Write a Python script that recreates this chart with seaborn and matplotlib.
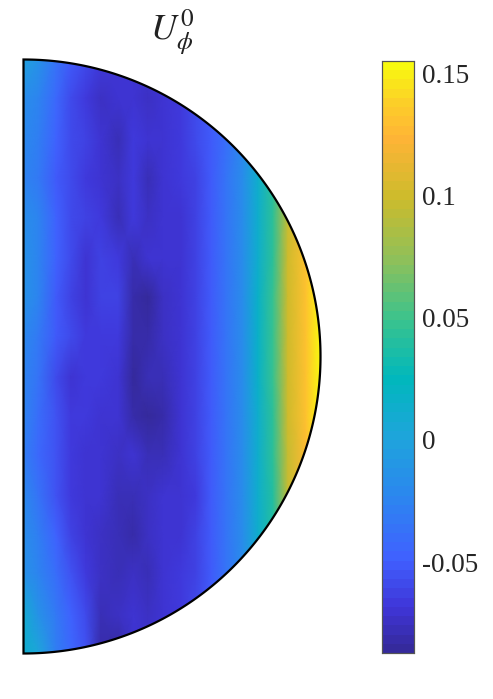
import numpy as np
import pandas as pd
import matplotlib
matplotlib.use('Agg')
import matplotlib.pyplot as plt
import seaborn as sns
from matplotlib.colors import LinearSegmentedColormap
from matplotlib.patches import Polygon

# values, rows go top to bottom, columns left to right
x_pos = [0.00, 0.05, 0.11, 0.16, 0.21, 0.26, 0.32, 0.37, 0.42, 0.47,
         0.53, 0.58, 0.63, 0.68, 0.74, 0.79, 0.84, 0.89, 0.95, 1.00]
y_pos = [1.00, 0.87, 0.73, 0.60, 0.47, 0.33, 0.20, 0.07,
         -0.07, -0.20, -0.33, -0.47, -0.60, -0.73, -0.87, -1.00]

u1 = [-0.002, -0.012, -0.035, -0.052, -0.060, -0.068, -0.070, -0.072, -0.072, -0.068, -0.065, -0.060, -0.052, -0.040, -0.020, 0.012, 0.040, 0.095, 0.128, 0.155]
u2 = [-0.018, -0.024, -0.045, -0.060, -0.066, -0.074, -0.072, -0.072, -0.074, -0.070, -0.066, -0.060, -0.052, -0.040, -0.020, 0.012, 0.040, 0.095, 0.128, 0.155]
u3 = [-0.022, -0.030, -0.048, -0.058, -0.064, -0.072, -0.078, -0.068, -0.072, -0.070, -0.066, -0.060, -0.052, -0.040, -0.020, 0.012, 0.040, 0.095, 0.128, 0.155]
u4 = [-0.024, -0.032, -0.050, -0.060, -0.066, -0.070, -0.074, -0.066, -0.076, -0.072, -0.068, -0.064, -0.052, -0.038, -0.018, 0.014, 0.042, 0.098, 0.128, 0.155]
u5 = [-0.018, -0.026, -0.048, -0.060, -0.064, -0.068, -0.076, -0.066, -0.074, -0.072, -0.070, -0.062, -0.052, -0.038, -0.018, 0.014, 0.042, 0.098, 0.128, 0.155]
u6 = [-0.012, -0.024, -0.046, -0.060, -0.070, -0.062, -0.066, -0.076, -0.070, -0.072, -0.070, -0.062, -0.050, -0.038, -0.018, 0.014, 0.045, 0.100, 0.130, 0.155]
u7 = [-0.014, -0.026, -0.050, -0.062, -0.070, -0.062, -0.064, -0.082, -0.084, -0.074, -0.070, -0.062, -0.050, -0.038, -0.018, 0.016, 0.048, 0.102, 0.132, 0.155]
u8 = [-0.020, -0.032, -0.052, -0.060, -0.066, -0.066, -0.068, -0.080, -0.082, -0.074, -0.070, -0.062, -0.050, -0.038, -0.018, 0.016, 0.048, 0.102, 0.132, 0.155]
u9 = [-0.024, -0.036, -0.058, -0.070, -0.066, -0.068, -0.070, -0.084, -0.078, -0.076, -0.070, -0.062, -0.050, -0.038, -0.018, 0.016, 0.048, 0.102, 0.132, 0.155]
u10 = [-0.026, -0.040, -0.056, -0.066, -0.068, -0.070, -0.072, -0.080, -0.084, -0.080, -0.072, -0.062, -0.050, -0.038, -0.018, 0.014, 0.045, 0.100, 0.130, 0.155]
u11 = [-0.028, -0.042, -0.056, -0.066, -0.070, -0.072, -0.074, -0.072, -0.078, -0.076, -0.072, -0.064, -0.052, -0.038, -0.018, 0.014, 0.042, 0.098, 0.128, 0.155]
u12 = [-0.022, -0.036, -0.054, -0.068, -0.072, -0.072, -0.078, -0.078, -0.074, -0.072, -0.072, -0.066, -0.052, -0.038, -0.018, 0.014, 0.040, 0.096, 0.128, 0.155]
u13 = [-0.018, -0.030, -0.048, -0.062, -0.072, -0.074, -0.076, -0.080, -0.074, -0.072, -0.070, -0.064, -0.050, -0.038, -0.018, 0.014, 0.040, 0.096, 0.128, 0.155]
u14 = [-0.012, -0.024, -0.040, -0.054, -0.066, -0.074, -0.076, -0.074, -0.078, -0.072, -0.068, -0.062, -0.050, -0.038, -0.018, 0.014, 0.040, 0.096, 0.128, 0.155]
u15 = [0.008, -0.012, -0.034, -0.046, -0.058, -0.076, -0.074, -0.072, -0.074, -0.070, -0.066, -0.060, -0.050, -0.038, -0.018, 0.014, 0.040, 0.096, 0.128, 0.155]
u16 = [0.014, 0.000, -0.028, -0.042, -0.056, -0.080, -0.084, -0.072, -0.072, -0.068, -0.064, -0.060, -0.050, -0.038, -0.018, 0.014, 0.040, 0.096, 0.128, 0.155]

u_rows = [u1, u2, u3, u4, u5, u6, u7, u8, u9, u10, u11, u12, u13, u14, u15, u16]

cbar_ticks = [-0.05, 0, 0.05, 0.1, 0.15]
cbar_labels = ['-0.05', '0', '0.05', '0.1', '0.15']
vmin = -0.0872
vmax = 0.155

W, H = 493, 699
sns.set_theme(style='white')
plt.rcParams['font.family'] = ['Liberation Serif', 'DejaVu Serif']
plt.rcParams['mathtext.fontset'] = 'stix'

# parula like colormap
stops = [(-0.0872, '#352a9c'), (-0.07, '#3f35d8'), (-0.05, '#4060ff'), (-0.025, '#2c85f0'),
         (0.0, '#1fa4dc'), (0.025, '#00b8bc'), (0.05, '#3cc38c'), (0.075, '#90c058'),
         (0.1, '#cdbb2c'), (0.125, '#ffb436'), (0.14, '#fcd028'), (0.155, '#f8fa0e')]
cmap = LinearSegmentedColormap.from_list('par', [((v - vmin) / (vmax - vmin), c) for v, c in stops], N=64)

fig = plt.figure(figsize=(W / 100, H / 100), dpi=100)
R = 297.0
ax = fig.add_axes([23.5 / W, 1 - 653.5 / H, R / W, 2 * R / H])
cax = fig.add_axes([382 / W, 1 - 653 / H, 32 / W, 592 / H])

df = pd.DataFrame(u_rows, index=y_pos, columns=x_pos)
sns.heatmap(df, ax=ax, cbar_ax=cax, cmap=cmap, vmin=vmin, vmax=vmax, xticklabels=False, yticklabels=False)

# swap the blocky cells for a smooth shaded mesh on the same colour scale
ax.collections[0].remove()
ax.set_xlim(0, 1)
ax.set_ylim(-1, 1)
mesh = ax.pcolormesh(x_pos, y_pos, df.values, shading='gouraud', cmap=cmap, vmin=vmin, vmax=vmax)

t = np.linspace(-np.pi / 2, np.pi / 2, 400)
outline = np.column_stack([np.cos(t), np.sin(t)])
disk = Polygon(outline, closed=True, transform=ax.transData, facecolor='none', edgecolor='black', lw=1.6, zorder=5, clip_on=False)
ax.add_patch(disk)
mesh.set_clip_path(disk)
ax.axis('off')

ax.text(0.5, 1.09, r'$U_{\phi}^{0}$', transform=ax.transData, ha='center', va='center', fontsize=26, color='#222222')

cax.set_yticks(cbar_ticks)
cax.set_yticklabels(cbar_labels)
cax.tick_params(axis='y', right=True, direction='in', length=6, width=0.8, color='#404040', labelsize=19.5, labelcolor='#262626', pad=6)
for s in cax.spines.values():
    s.set_visible(True)
    s.set_color('#555555')
    s.set_linewidth(0.8)

fig.savefig('out.png', dpi=100)
